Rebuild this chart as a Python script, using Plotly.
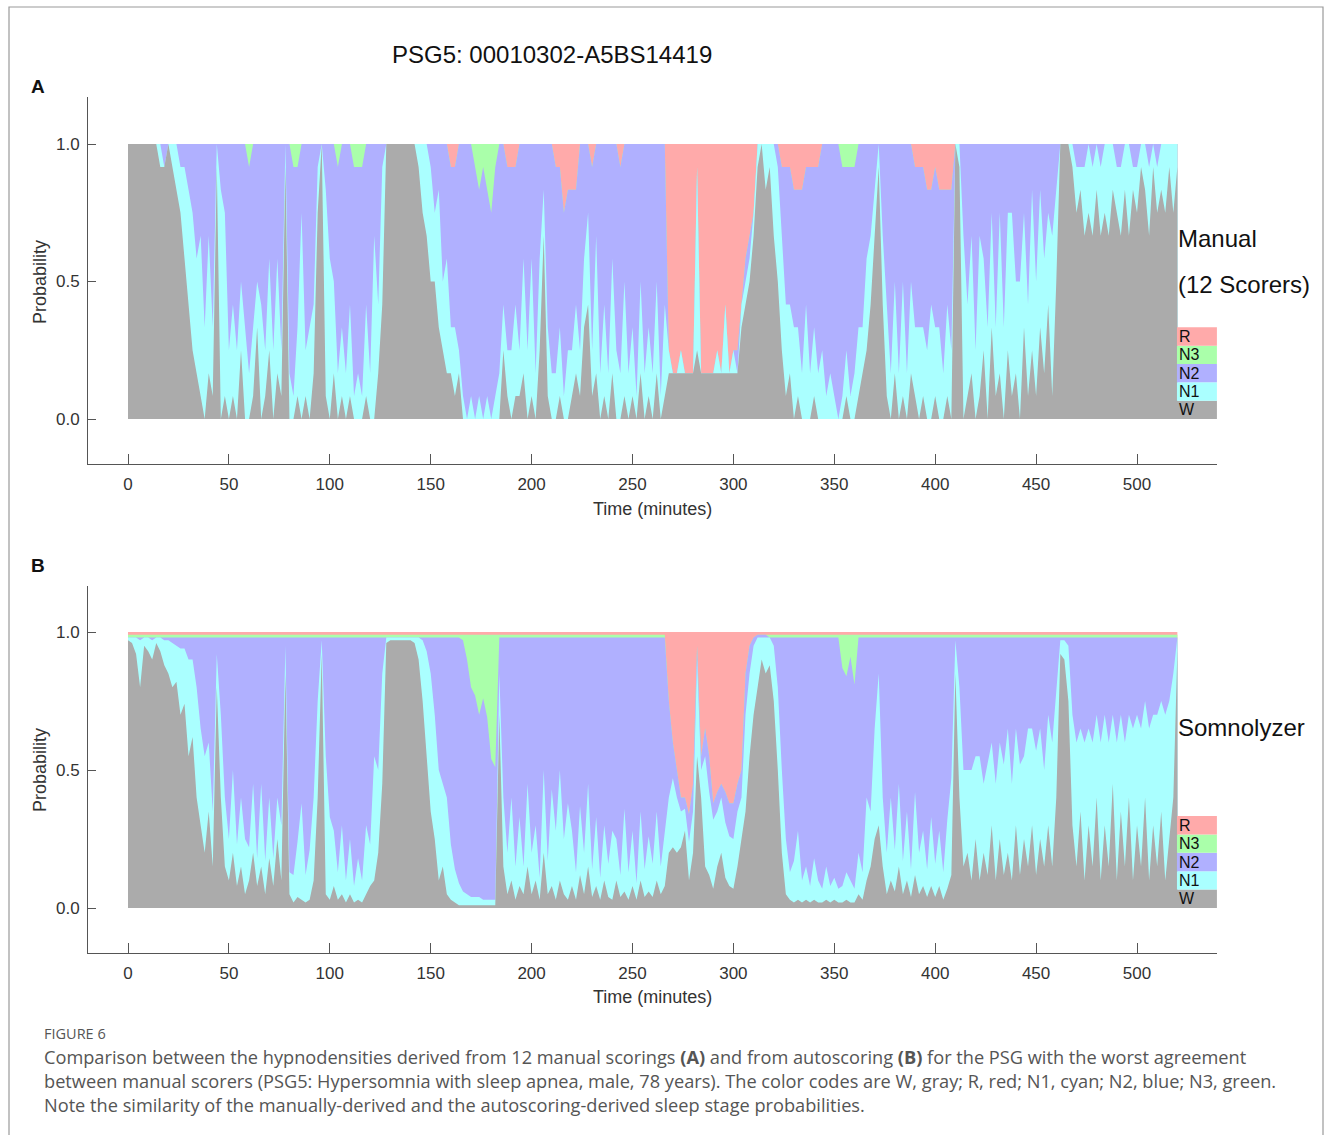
import plotly.graph_objects as go

# ---------------- data (sampled every 2 minutes, 0..520 min) ----------------
TIME_MIN = list(range(0, 521, 2))
STAGES = ["W", "N1", "N2", "N3", "R"]
STAGE_COLORS = {"W": "#ababab", "N1": "#aaffff", "N2": "#b0b0ff", "N3": "#aaffaa", "R": "#ffaaaa"}
X_TICKS = [0, 50, 100, 150, 200, 250, 300, 350, 400, 450, 500]
Y_TICKS = [0.0, 0.5, 1.0]
Y_TICK_TEXT = ["0.0", "0.5", "1.0"]

# Panel A: number of the 12 manual scorers choosing each stage
MANUAL_W = [12, 12, 12, 12, 12, 12, 12, 12, 11, 11,
            12, 11, 10, 9, 7, 5, 3, 2, 1, 0,
            2, 1, 11, 0, 1, 0, 1, 0, 3, 0,
            0, 1, 4, 0, 1, 3, 0, 2, 1, 11,
            0, 0, 1, 0, 1, 0, 2, 9, 12, 1,
            0, 2, 0, 1, 0, 1, 0, 0, 0, 1,
            0, 0, 2, 5, 12, 12, 12, 12, 12, 12,
            12, 12, 11, 9, 8, 6, 6, 4, 3, 2,
            2, 1, 2, 0, 0, 0, 0, 0, 0, 0,
            0, 0, 0, 3, 1, 0, 1, 1, 2, 0,
            1, 0, 3, 8, 1, 0, 0, 1, 0, 0,
            1, 2, 1, 4, 5, 1, 2, 0, 1, 0,
            2, 0, 0, 1, 0, 1, 0, 2, 0, 1,
            0, 2, 0, 1, 2, 2, 2, 2, 2, 2,
            2, 3, 2, 2, 2, 2, 2, 2, 2, 2,
            2, 2, 4, 5, 6, 8, 11, 12, 10, 11,
            8, 6, 3, 1, 2, 0, 1, 0, 0, 0,
            1, 0, 0, 0, 0, 0, 0, 0, 1, 0,
            0, 1, 2, 3, 5, 8, 11, 5, 1, 0,
            2, 0, 1, 0, 2, 1, 0, 1, 0, 0,
            1, 0, 0, 1, 0, 12, 11, 0, 1, 2,
            0, 1, 3, 0, 4, 1, 2, 0, 3, 1,
            2, 0, 4, 1, 3, 1, 4, 2, 5, 1,
            6, 12, 12, 12, 11, 9, 10, 8, 9, 8,
            10, 8, 9, 8, 10, 9, 8, 10, 8, 10,
            9, 11, 10, 8, 11, 9, 10, 9, 11, 9,
            11]
MANUAL_N1 = [0, 0, 0, 0, 0, 0, 0, 0, 1, 0,
             0, 1, 2, 2, 4, 5, 6, 5, 7, 4,
             6, 3, 1, 10, 8, 3, 4, 3, 3, 4,
             2, 3, 2, 5, 2, 4, 3, 5, 2, 1,
             2, 1, 3, 9, 2, 4, 3, 2, 0, 9,
             7, 4, 2, 3, 2, 4, 1, 2, 1, 4,
             2, 8, 3, 6, 0, 0, 0, 0, 0, 0,
             0, 0, 1, 3, 4, 5, 3, 6, 3, 5,
             2, 3, 1, 1, 0, 1, 0, 1, 0, 1,
             0, 1, 2, 2, 2, 3, 4, 2, 5, 3,
             6, 2, 4, 2, 3, 2, 2, 3, 1, 3,
             2, 3, 2, 3, 4, 2, 6, 2, 4, 2,
             5, 3, 2, 5, 2, 3, 1, 4, 2, 3,
             2, 4, 1, 4, 1, 0, 0, 1, 0, 0,
             0, 8, 0, 0, 0, 0, 1, 0, 3, 0,
             1, 0, 1, 1, 1, 1, 1, 0, 2, 1,
             4, 5, 5, 4, 3, 4, 3, 2, 5, 2,
             3, 2, 3, 1, 2, 1, 0, 1, 2, 1,
             2, 3, 2, 4, 3, 2, 1, 3, 4, 2,
             4, 2, 5, 2, 4, 3, 4, 3, 3, 5,
             3, 4, 2, 4, 3, 0, 1, 8, 4, 6,
             3, 7, 4, 4, 5, 3, 7, 4, 6, 8,
             4, 6, 5, 4, 7, 5, 6, 5, 4, 7,
             4, 0, 0, 0, 1, 2, 1, 3, 3, 3,
             2, 3, 3, 4, 2, 2, 3, 2, 4, 1,
             2, 1, 2, 3, 1, 2, 2, 3, 1, 3,
             1]
MANUAL_N2 = [0, 0, 0, 0, 0, 0, 0, 0, 0, 1,
             0, 0, 0, 1, 1, 2, 3, 5, 4, 8,
             4, 8, 0, 2, 3, 9, 7, 9, 6, 8,
             9, 8, 6, 7, 9, 5, 9, 5, 9, 0,
             10, 10, 7, 3, 9, 8, 7, 1, 0, 2,
             5, 6, 9, 8, 10, 7, 10, 9, 10, 7,
             10, 4, 7, 1, 0, 0, 0, 0, 0, 0,
             0, 0, 0, 0, 0, 1, 3, 2, 6, 5,
             7, 7, 9, 11, 12, 11, 11, 9, 11, 9,
             9, 10, 10, 7, 8, 8, 6, 9, 5, 9,
             5, 10, 5, 2, 8, 10, 9, 7, 8, 7,
             7, 5, 9, 5, 3, 8, 4, 10, 7, 10,
             5, 9, 9, 6, 10, 8, 11, 6, 10, 8,
             10, 6, 11, 7, 0, 0, 0, 0, 0, 0,
             0, 0, 0, 0, 0, 0, 0, 0, 0, 0,
             0, 1, 0, 1, 1, 0, 0, 0, 0, 0,
             0, 1, 3, 6, 6, 6, 6, 8, 6, 9,
             7, 9, 9, 11, 10, 11, 12, 10, 8, 10,
             9, 8, 8, 5, 4, 2, 0, 4, 7, 10,
             6, 10, 6, 10, 6, 7, 7, 7, 7, 5,
             7, 6, 8, 5, 7, 0, 0, 4, 7, 4,
             9, 4, 5, 8, 3, 8, 3, 8, 3, 3,
             6, 6, 3, 7, 2, 6, 2, 5, 3, 4,
             2, 0, 0, 0, 0, 1, 1, 1, 0, 1,
             0, 1, 0, 0, 0, 1, 1, 0, 0, 1,
             1, 0, 0, 1, 0, 1, 0, 0, 0, 0,
             0]
MANUAL_N3 = [0, 0, 0, 0, 0, 0, 0, 0, 0, 0,
             0, 0, 0, 0, 0, 0, 0, 0, 0, 0,
             0, 0, 0, 0, 0, 0, 0, 0, 0, 0,
             1, 0, 0, 0, 0, 0, 0, 0, 0, 0,
             0, 1, 1, 0, 0, 0, 0, 0, 0, 0,
             0, 0, 1, 0, 0, 0, 1, 1, 1, 0,
             0, 0, 0, 0, 0, 0, 0, 0, 0, 0,
             0, 0, 0, 0, 0, 0, 0, 0, 0, 0,
             0, 0, 0, 0, 0, 0, 1, 2, 1, 2,
             3, 1, 0, 0, 0, 0, 0, 0, 0, 0,
             0, 0, 0, 0, 0, 0, 0, 0, 0, 0,
             0, 0, 0, 0, 0, 0, 0, 0, 0, 0,
             0, 0, 0, 0, 0, 0, 0, 0, 0, 0,
             0, 0, 0, 0, 0, 0, 0, 0, 0, 0,
             0, 0, 0, 0, 0, 0, 0, 0, 0, 0,
             0, 0, 0, 0, 0, 0, 0, 0, 0, 0,
             0, 0, 0, 0, 0, 0, 0, 0, 0, 0,
             0, 0, 0, 0, 0, 0, 0, 1, 1, 1,
             1, 0, 0, 0, 0, 0, 0, 0, 0, 0,
             0, 0, 0, 0, 0, 0, 0, 0, 0, 0,
             0, 0, 0, 0, 0, 0, 0, 0, 0, 0,
             0, 0, 0, 0, 0, 0, 0, 0, 0, 0,
             0, 0, 0, 0, 0, 0, 0, 0, 0, 0,
             0, 0, 0, 0, 0, 0, 0, 0, 0, 0,
             0, 0, 0, 0, 0, 0, 0, 0, 0, 0,
             0, 0, 0, 0, 0, 0, 0, 0, 0, 0,
             0]
MANUAL_R = [0, 0, 0, 0, 0, 0, 0, 0, 0, 0,
            0, 0, 0, 0, 0, 0, 0, 0, 0, 0,
            0, 0, 0, 0, 0, 0, 0, 0, 0, 0,
            0, 0, 0, 0, 0, 0, 0, 0, 0, 0,
            0, 0, 0, 0, 0, 0, 0, 0, 0, 0,
            0, 0, 0, 0, 0, 0, 0, 0, 0, 0,
            0, 0, 0, 0, 0, 0, 0, 0, 0, 0,
            0, 0, 0, 0, 0, 0, 0, 0, 0, 0,
            1, 1, 0, 0, 0, 0, 0, 0, 0, 0,
            0, 0, 0, 0, 1, 1, 1, 0, 0, 0,
            0, 0, 0, 0, 0, 0, 1, 1, 3, 2,
            2, 2, 0, 0, 0, 1, 0, 0, 0, 0,
            0, 0, 1, 0, 0, 0, 0, 0, 0, 0,
            0, 0, 0, 0, 9, 10, 10, 9, 10, 10,
            10, 1, 10, 10, 10, 10, 9, 10, 7, 10,
            9, 9, 7, 5, 4, 3, 0, 0, 0, 0,
            0, 0, 1, 1, 1, 2, 2, 2, 1, 1,
            1, 1, 0, 0, 0, 0, 0, 0, 0, 0,
            0, 0, 0, 0, 0, 0, 0, 0, 0, 0,
            0, 0, 0, 0, 0, 1, 1, 1, 2, 2,
            1, 2, 2, 2, 2, 0, 0, 0, 0, 0,
            0, 0, 0, 0, 0, 0, 0, 0, 0, 0,
            0, 0, 0, 0, 0, 0, 0, 0, 0, 0,
            0, 0, 0, 0, 0, 0, 0, 0, 0, 0,
            0, 0, 0, 0, 0, 0, 0, 0, 0, 0,
            0, 0, 0, 0, 0, 0, 0, 0, 0, 0,
            0]

# Panel B: Somnolyzer autoscoring probabilities (percent)
AUTO_W = [97, 96, 92, 80, 95, 93, 90, 96, 93, 88,
          85, 80, 82, 70, 74, 55, 62, 40, 30, 20,
          35, 15, 80, 40, 15, 10, 20, 8, 15, 5,
          10, 20, 8, 15, 5, 18, 8, 25, 10, 85,
          5, 2, 4, 3, 2, 3, 10, 40, 92, 5,
          3, 8, 3, 5, 2, 5, 2, 3, 2, 5,
          8, 10, 20, 45, 96, 97, 97, 97, 97, 97,
          97, 96, 90, 75, 55, 35, 25, 10, 15, 5,
          3, 2, 1, 1, 1, 1, 1, 1, 1, 1,
          1, 1, 70, 15, 5, 10, 3, 8, 5, 15,
          5, 10, 3, 20, 5, 8, 3, 10, 5, 3,
          8, 3, 12, 5, 15, 4, 8, 3, 10, 4,
          3, 10, 4, 6, 3, 8, 3, 10, 4, 6,
          4, 10, 5, 8, 20, 22, 20, 22, 28, 10,
          20, 55, 40, 15, 12, 7, 15, 20, 11, 8,
          7, 15, 25, 35, 55, 70, 80, 90, 85, 88,
          75, 50, 20, 5, 3, 2, 3, 2, 3, 2,
          3, 2, 2, 3, 2, 3, 2, 2, 3, 2,
          2, 5, 3, 10, 15, 25, 30, 15, 5, 10,
          6, 15, 5, 10, 4, 12, 5, 8, 4, 8,
          4, 8, 3, 7, 12, 85, 40, 15, 20, 10,
          25, 10, 20, 12, 30, 10, 25, 12, 20, 10,
          30, 12, 25, 15, 30, 12, 25, 15, 30, 15,
          40, 92, 90, 75, 30, 15, 35, 10, 30, 15,
          40, 10, 30, 15, 45, 10, 35, 15, 40, 10,
          30, 15, 40, 10, 30, 15, 35, 10, 25, 40,
          93]
AUTO_N1 = [1, 2, 6, 17, 3, 5, 7, 2, 5, 9,
           12, 16, 13, 24, 20, 35, 28, 40, 35, 35,
           25, 20, 12, 30, 25, 15, 30, 15, 25, 20,
           12, 25, 10, 30, 12, 22, 10, 15, 20, 10,
           8, 10, 20, 35, 10, 18, 30, 35, 5, 50,
           30, 20, 10, 25, 8, 20, 6, 15, 8, 25,
           15, 45, 30, 40, 2, 1, 1, 1, 1, 1,
           1, 2, 8, 22, 38, 50, 45, 40, 30, 35,
           20, 12, 8, 5, 4, 3, 3, 3, 2, 2,
           2, 2, 15, 25, 15, 30, 12, 25, 10, 30,
           15, 20, 8, 30, 12, 35, 25, 40, 20, 35,
           20, 10, 25, 15, 30, 10, 25, 8, 20, 12,
           25, 15, 8, 30, 10, 20, 6, 25, 10, 20,
           12, 25, 10, 20, 20, 25, 20, 13, 8, 14,
           15, 35, 10, 40, 30, 25, 20, 20, 20, 18,
           18, 20, 15, 35, 30, 25, 18, 8, 13, 10,
           20, 30, 30, 20, 10, 15, 25, 8, 12, 6,
           15, 8, 5, 12, 6, 8, 5, 6, 10, 8,
           5, 15, 10, 30, 20, 40, 55, 25, 15, 30,
           15, 30, 12, 25, 10, 30, 15, 20, 10, 25,
           12, 20, 10, 25, 35, 12, 40, 35, 30, 40,
           30, 45, 25, 40, 30, 35, 35, 40, 45, 35,
           35, 40, 30, 50, 35, 45, 40, 35, 40, 45,
           40, 5, 7, 20, 40, 45, 30, 50, 35, 45,
           30, 50, 40, 45, 25, 50, 35, 45, 30, 55,
           40, 50, 35, 55, 40, 55, 40, 60, 50, 45,
           5]
AUTO_N2 = [0, 0, 0, 1, 0, 0, 1, 0, 0, 1,
           1, 2, 3, 4, 4, 8, 8, 18, 33, 43,
           38, 63, 6, 28, 58, 73, 48, 75, 58, 73,
           76, 53, 80, 53, 81, 58, 80, 58, 68, 3,
           85, 86, 74, 60, 86, 77, 58, 23, 1, 43,
           65, 70, 85, 68, 88, 73, 90, 80, 88, 68,
           75, 43, 48, 13, 0, 0, 0, 0, 0, 0,
           0, 0, 0, 1, 5, 13, 28, 48, 53, 58,
           75, 84, 89, 91, 85, 76, 73, 66, 73, 66,
           51, 48, 13, 58, 78, 58, 83, 65, 83, 53,
           78, 68, 87, 48, 81, 55, 70, 48, 73, 60,
           70, 85, 61, 78, 53, 84, 65, 87, 68, 82,
           70, 73, 86, 62, 85, 70, 89, 63, 84, 72,
           82, 63, 83, 70, 35, 13, 10, 5, 4, 10,
           10, 5, 5, 10, 13, 6, 7, 5, 11, 12,
           13, 10, 10, 15, 10, 3, 1, 1, 1, 0,
           3, 18, 48, 73, 85, 81, 70, 88, 83, 90,
           80, 88, 91, 83, 90, 87, 91, 79, 71, 81,
           74, 78, 85, 58, 63, 33, 13, 58, 78, 58,
           77, 53, 81, 63, 84, 56, 78, 70, 84, 65,
           82, 70, 85, 66, 51, 1, 18, 48, 48, 48,
           43, 43, 53, 46, 38, 53, 38, 46, 33, 53,
           33, 46, 43, 33, 33, 41, 33, 48, 28, 38,
           18, 1, 1, 3, 28, 38, 33, 38, 33, 38,
           28, 38, 28, 38, 28, 38, 28, 38, 28, 33,
           28, 33, 23, 33, 28, 28, 23, 28, 23, 13,
           0]
AUTO_N3 = [1, 1, 1, 1, 1, 1, 1, 1, 1, 1,
           1, 1, 1, 1, 1, 1, 1, 1, 1, 1,
           1, 1, 1, 1, 1, 1, 1, 1, 1, 1,
           1, 1, 1, 1, 1, 1, 1, 1, 1, 1,
           1, 1, 1, 1, 1, 1, 1, 1, 1, 1,
           1, 1, 1, 1, 1, 1, 1, 1, 1, 1,
           1, 1, 1, 1, 1, 1, 1, 1, 1, 1,
           1, 1, 1, 1, 1, 1, 1, 1, 1, 1,
           1, 1, 1, 2, 9, 19, 22, 29, 23, 30,
           45, 48, 1, 1, 1, 1, 1, 1, 1, 1,
           1, 1, 1, 1, 1, 1, 1, 1, 1, 1,
           1, 1, 1, 1, 1, 1, 1, 1, 1, 1,
           1, 1, 1, 1, 1, 1, 1, 1, 1, 1,
           1, 1, 1, 1, 0, 0, 0, 0, 0, 0,
           0, 0, 0, 0, 0, 0, 0, 0, 0, 0,
           0, 0, 0, 0, 0, 0, 0, 0, 0, 1,
           1, 1, 1, 1, 1, 1, 1, 1, 1, 1,
           1, 1, 1, 1, 1, 1, 1, 12, 15, 8,
           18, 1, 1, 1, 1, 1, 1, 1, 1, 1,
           1, 1, 1, 1, 1, 1, 1, 1, 1, 1,
           1, 1, 1, 1, 1, 1, 1, 1, 1, 1,
           1, 1, 1, 1, 1, 1, 1, 1, 1, 1,
           1, 1, 1, 1, 1, 1, 1, 1, 1, 1,
           1, 1, 1, 1, 1, 1, 1, 1, 1, 1,
           1, 1, 1, 1, 1, 1, 1, 1, 1, 1,
           1, 1, 1, 1, 1, 1, 1, 1, 1, 1,
           1]
AUTO_R = [1, 1, 1, 1, 1, 1, 1, 1, 1, 1,
          1, 1, 1, 1, 1, 1, 1, 1, 1, 1,
          1, 1, 1, 1, 1, 1, 1, 1, 1, 1,
          1, 1, 1, 1, 1, 1, 1, 1, 1, 1,
          1, 1, 1, 1, 1, 1, 1, 1, 1, 1,
          1, 1, 1, 1, 1, 1, 1, 1, 1, 1,
          1, 1, 1, 1, 1, 1, 1, 1, 1, 1,
          1, 1, 1, 1, 1, 1, 1, 1, 1, 1,
          1, 1, 1, 1, 1, 1, 1, 1, 1, 1,
          1, 1, 1, 1, 1, 1, 1, 1, 1, 1,
          1, 1, 1, 1, 1, 1, 1, 1, 1, 1,
          1, 1, 1, 1, 1, 1, 1, 1, 1, 1,
          1, 1, 1, 1, 1, 1, 1, 1, 1, 1,
          1, 1, 1, 1, 25, 40, 50, 60, 60, 66,
          55, 5, 45, 35, 45, 62, 58, 55, 58, 62,
          62, 55, 50, 15, 5, 2, 1, 1, 1, 1,
          1, 1, 1, 1, 1, 1, 1, 1, 1, 1,
          1, 1, 1, 1, 1, 1, 1, 1, 1, 1,
          1, 1, 1, 1, 1, 1, 1, 1, 1, 1,
          1, 1, 1, 1, 1, 1, 1, 1, 1, 1,
          1, 1, 1, 1, 1, 1, 1, 1, 1, 1,
          1, 1, 1, 1, 1, 1, 1, 1, 1, 1,
          1, 1, 1, 1, 1, 1, 1, 1, 1, 1,
          1, 1, 1, 1, 1, 1, 1, 1, 1, 1,
          1, 1, 1, 1, 1, 1, 1, 1, 1, 1,
          1, 1, 1, 1, 1, 1, 1, 1, 1, 1,
          1]

PANELS = [
    ("x", "y", {"W": MANUAL_W, "N1": MANUAL_N1, "N2": MANUAL_N2, "N3": MANUAL_N3, "R": MANUAL_R}),
    ("x2", "y2", {"W": AUTO_W, "N1": AUTO_N1, "N2": AUTO_N2, "N3": AUTO_N3, "R": AUTO_R}),
]

for _, _, d in PANELS:
    for s in STAGES:
        if len(d[s]) != len(TIME_MIN):
            raise ValueError(f"length mismatch {s}: {len(d[s])} vs {len(TIME_MIN)}")

# ---------------- layout helpers (page pixels -> paper) ----------------
W_PX, H_PX = 1331, 1135


def px(x):
    return x / W_PX


def py(y):
    return 1 - y / H_PX


FONT = "Liberation Sans, Arial, sans-serif"
CAP_FONT = "Open Sans, sans-serif"

fig = go.Figure()

for xa, ya, data in PANELS:
    n = len(TIME_MIN)
    totals = [sum(data[s][i] for s in STAGES) for i in range(n)]
    probs = {s: [data[s][i] / totals[i] for i in range(n)] for s in STAGES}
    # cumulative tops, drawn from the top stage downwards so that layers overlap cleanly
    for k in range(len(STAGES) - 1, -1, -1):
        cum = [sum(probs[s][i] for s in STAGES[:k + 1]) for i in range(n)]
        fig.add_trace(go.Scatter(
            x=TIME_MIN, y=cum, mode="lines", line=dict(width=0),
            fill="tozeroy", fillcolor=STAGE_COLORS[STAGES[k]],
            xaxis=xa, yaxis=ya, showlegend=False, hoverinfo="skip"))

axis_common = dict(showline=True, linecolor="#555555", linewidth=1, showgrid=False,
                   zeroline=False, ticks="inside", tickcolor="#555555", mirror=False,
                   tickfont=dict(family=FONT, size=17, color="#333333"))

x_range = [-19.82, 539.64]
fig.update_layout(
    width=W_PX, height=H_PX, autosize=False,
    margin=dict(l=0, r=0, t=0, b=0),
    paper_bgcolor="white", plot_bgcolor="white",
    showlegend=False,
    xaxis=dict(domain=[px(88), px(1217)], range=x_range, anchor="y",
               tickvals=X_TICKS, ticklen=10, ticklabelstandoff=5, **axis_common),
    yaxis=dict(domain=[py(464), py(97)], range=[-0.1636, 1.1709], anchor="x",
               tickvals=Y_TICKS, ticktext=Y_TICK_TEXT, ticklen=8, ticklabelstandoff=4, **axis_common),
    xaxis2=dict(domain=[px(88), px(1217)], range=x_range, anchor="y2",
                tickvals=X_TICKS, ticklen=10, ticklabelstandoff=5, **axis_common),
    yaxis2=dict(domain=[py(953), py(586)], range=[-0.163, 1.1667], anchor="x2",
                tickvals=Y_TICKS, ticktext=Y_TICK_TEXT, ticklen=8, ticklabelstandoff=4, **axis_common),
)

# stage key boxes at the right end of each panel
shapes = []
annotations = []
for xa, ya, _ in PANELS:
    for k, s in enumerate(STAGES):
        y0 = k / 15
        shapes.append(dict(type="rect", xref=xa, yref=ya, x0=519.8, x1=539.6, y0=y0, y1=y0 + 1 / 15,
                           fillcolor=STAGE_COLORS[s], line=dict(width=0), layer="above"))
        annotations.append(dict(xref=xa, yref=ya, x=519.9, y=y0 + 1 / 30, text=s, showarrow=False,
                                xanchor="left", yanchor="middle",
                                font=dict(family=FONT, size=16, color="#111111")))

# outer frame of the figure
shapes.append(dict(type="rect", xref="paper", yref="paper", x0=px(9), x1=px(1323), y0=py(1150), y1=py(7),
                   line=dict(color="#9a9a9a", width=1.2), fillcolor="rgba(0,0,0,0)"))


def txt(x, y, text, size, color="#111111", family=FONT, xanchor="center", angle=0, yanchor="middle"):
    annotations.append(dict(xref="paper", yref="paper", x=px(x), y=py(y), text=text, showarrow=False,
                            xanchor=xanchor, yanchor=yanchor, textangle=angle,
                            font=dict(family=family, size=size, color=color)))


txt(552, 54, "PSG5: 00010302-A5BS14419", 24)
txt(38, 86, "<b>A</b>", 19)
txt(38, 565, "<b>B</b>", 19)
txt(40, 282, "Probability", 18, color="#333333", angle=-90)
txt(40, 770, "Probability", 18, color="#333333", angle=-90)
txt(652, 509, "Time (minutes)", 18, color="#333333")
txt(652, 997, "Time (minutes)", 18, color="#333333")
txt(1176, 238, "Manual", 24, xanchor="left")
txt(1176, 284, "(12 Scorers)", 24, xanchor="left")
txt(1176, 727, "Somnolyzer", 24, xanchor="left")

txt(42, 1033, "FIGURE 6", 14.5, color="#555555", family=CAP_FONT, xanchor="left")
txt(42, 1057, "Comparison between the hypnodensities derived from 12 manual scorings <b>(A)</b> and from autoscoring "
    "<b>(B)</b> for the PSG with the worst agreement", 18.2, color="#555555", family=CAP_FONT, xanchor="left")
txt(42, 1081, "between manual scorers (PSG5: Hypersomnia with sleep apnea, male, 78 years). The color codes are W, "
    "gray; R, red; N1, cyan; N2, blue; N3, green.", 18.2, color="#555555", family=CAP_FONT, xanchor="left")
txt(42, 1105, "Note the similarity of the manually-derived and the autoscoring-derived sleep stage probabilities.",
    18.2, color="#555555", family=CAP_FONT, xanchor="left")

fig.update_layout(shapes=shapes, annotations=annotations)

fig.write_html("out.html", include_plotlyjs=True, config={"displayModeBar": False},
               post_script="document.body.style.margin='0';document.body.style.overflow='hidden';")
